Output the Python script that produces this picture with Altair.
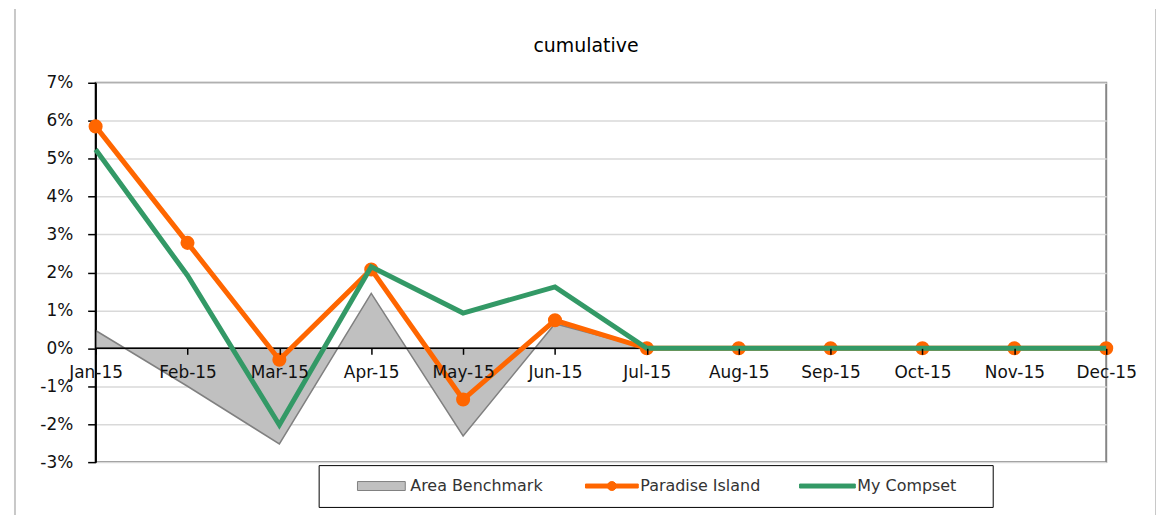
import altair as alt
import pandas as pd

months = ["Jan-15", "Feb-15", "Mar-15", "Apr-15", "May-15", "Jun-15",
          "Jul-15", "Aug-15", "Sep-15", "Oct-15", "Nov-15", "Dec-15"]
area_benchmark = [0.47, -1.00, -2.52, 1.45, -2.31, 0.65, 0, 0, 0, 0, 0, 0]
paradise_island = [5.85, 2.78, -0.30, 2.08, -1.35, 0.74, 0, 0, 0, 0, 0, 0]
my_compset = [5.24, 1.92, -2.02, 2.15, 0.93, 1.62, 0, 0, 0, 0, 0, 0]
series_names = ["Area Benchmark", "Paradise Island", "My Compset"]
y_ticks = [-3, -2, -1, 0, 1, 2, 3, 4, 5, 6, 7]

fill_colors = ["#C0C0C0", "#FF6600", "#339966"]
stroke_colors = ["#808080", "#FF6600", "#339966"]
legend_shapes = [
    "M4.5,-1.125H16.5V1.125H4.5Z",
    "M4,-0.5H17.25V0.5H4Z M9.5,0A1.125,1.125 0 1,1 11.75,0A1.125,1.125 0 1,1 9.5,0Z",
    "M3.25,-0.5H17.25V0.5H3.25Z M48,0L48,0",
]

df = pd.DataFrame({
    "month": months * 3,
    "series": [series_names[0]] * 12 + [series_names[1]] * 12 + [series_names[2]] * 12,
    "value": area_benchmark + paradise_island + my_compset,
})

W, H = 1015, 381

x_enc = alt.X(
    "month:N", sort=months, title=None,
    scale=alt.Scale(type="point", padding=0),
    axis=alt.Axis(labelAngle=0, offset=-H * 0.3, grid=False, domain=False,
                  tickColor="#000000", tickWidth=1.5, tickSize=6, zindex=1,
                  labelPadding=10, labelFont="DejaVu Sans", labelFontSize=17,
                  labelColor="#111111", labelOverlap=False),
)
y_enc = alt.Y(
    "value:Q", title=None,
    scale=alt.Scale(domain=[-3, 7], nice=False, zero=False),
    axis=alt.Axis(values=y_ticks, labelExpr="datum.value + '%'", grid=True,
                  gridColor="#d9d9d9", gridWidth=1.5, domainColor="#000000",
                  domainWidth=1.5, tickColor="#000000", tickWidth=1.5, tickSize=8,
                  labelPadding=15, labelFont="DejaVu Sans", labelFontSize=17,
                  labelColor="#111111", labelOverlap=False),
)

base = alt.Chart(df)

area = base.transform_filter(alt.datum.series == series_names[0]).mark_area(
    color="#C0C0C0", stroke="#808080", strokeWidth=1.5
).encode(x=x_enc, y=y_enc)

zero_df = pd.DataFrame({"value": [0]})
zero_line = alt.Chart(zero_df).mark_rule(color="#000000", strokeWidth=1.5).encode(
    y=y_enc
)
y_axis_line = alt.Chart(zero_df).mark_rule(color="#000000", strokeWidth=1.5).encode(
    x=alt.value(0), y=alt.value(0), y2=alt.value(H)
)

orange_line = base.transform_filter(alt.datum.series == series_names[1]).mark_line(
    color="#FF6600", strokeWidth=5
).encode(x=x_enc, y=y_enc)

orange_pts = base.transform_filter(alt.datum.series == series_names[1]).mark_point(
    filled=True, color="#FF6600", size=200, opacity=1
).encode(x=x_enc, y=y_enc)

green_line = base.transform_filter(alt.datum.series == series_names[2]).mark_line(
    color="#339966", strokeWidth=5
).encode(x=x_enc, y=y_enc)

legend_layer = base.mark_point(filled=True, opacity=0).encode(
    x=x_enc, y=y_enc,
    fill=alt.Fill("series:N", scale=alt.Scale(domain=series_names, range=fill_colors),
                  legend=alt.Legend(title=None)),
    stroke=alt.Stroke("series:N", scale=alt.Scale(domain=series_names, range=stroke_colors),
                      legend=alt.Legend(title=None)),
    shape=alt.Shape("series:N", scale=alt.Scale(domain=series_names, range=legend_shapes),
                    legend=alt.Legend(title=None)),
)

border_df = pd.DataFrame({"side": ["left", "right"]})
left_border = alt.Chart(border_df).transform_filter(alt.datum.side == "left").mark_rule(
    color="#c8c8c8", strokeWidth=2
).encode(x=alt.value(-81), y=alt.value(-74), y2=alt.value(434))
right_border = alt.Chart(border_df).transform_filter(alt.datum.side == "right").mark_rule(
    color="#c8c8c8", strokeWidth=2
).encode(x=alt.value(1065), y=alt.value(-74), y2=alt.value(434))

chart = alt.layer(
    left_border, right_border, area, zero_line, y_axis_line,
    orange_line, orange_pts, green_line, legend_layer
).properties(
    width=W, height=H,
    title=alt.TitleParams("cumulative", font="DejaVu Sans", fontSize=19,
                          fontWeight="normal", color="#000000", anchor="middle",
                          baseline="alphabetic", offset=-63, dx=-15),
    autosize=alt.AutoSizeParams(type="none"),
    padding={"left": 88, "top": 74, "right": 50, "bottom": 53},
).configure_view(
    stroke="#868686", strokeWidth=2
).configure_legend(
    orient="none", legendX=224, legendY=384, direction="horizontal",
    strokeColor="#000000", padding=13, symbolSize=64, symbolStrokeWidth=1,
    symbolOpacity=1, labelFont="DejaVu Sans", labelFontSize=16, labelColor="#333333",
    labelOffset=63, columnPadding=18, symbolOffset=0,
)

chart.save("out.html", embed_options={"renderer": "svg", "actions": False})
